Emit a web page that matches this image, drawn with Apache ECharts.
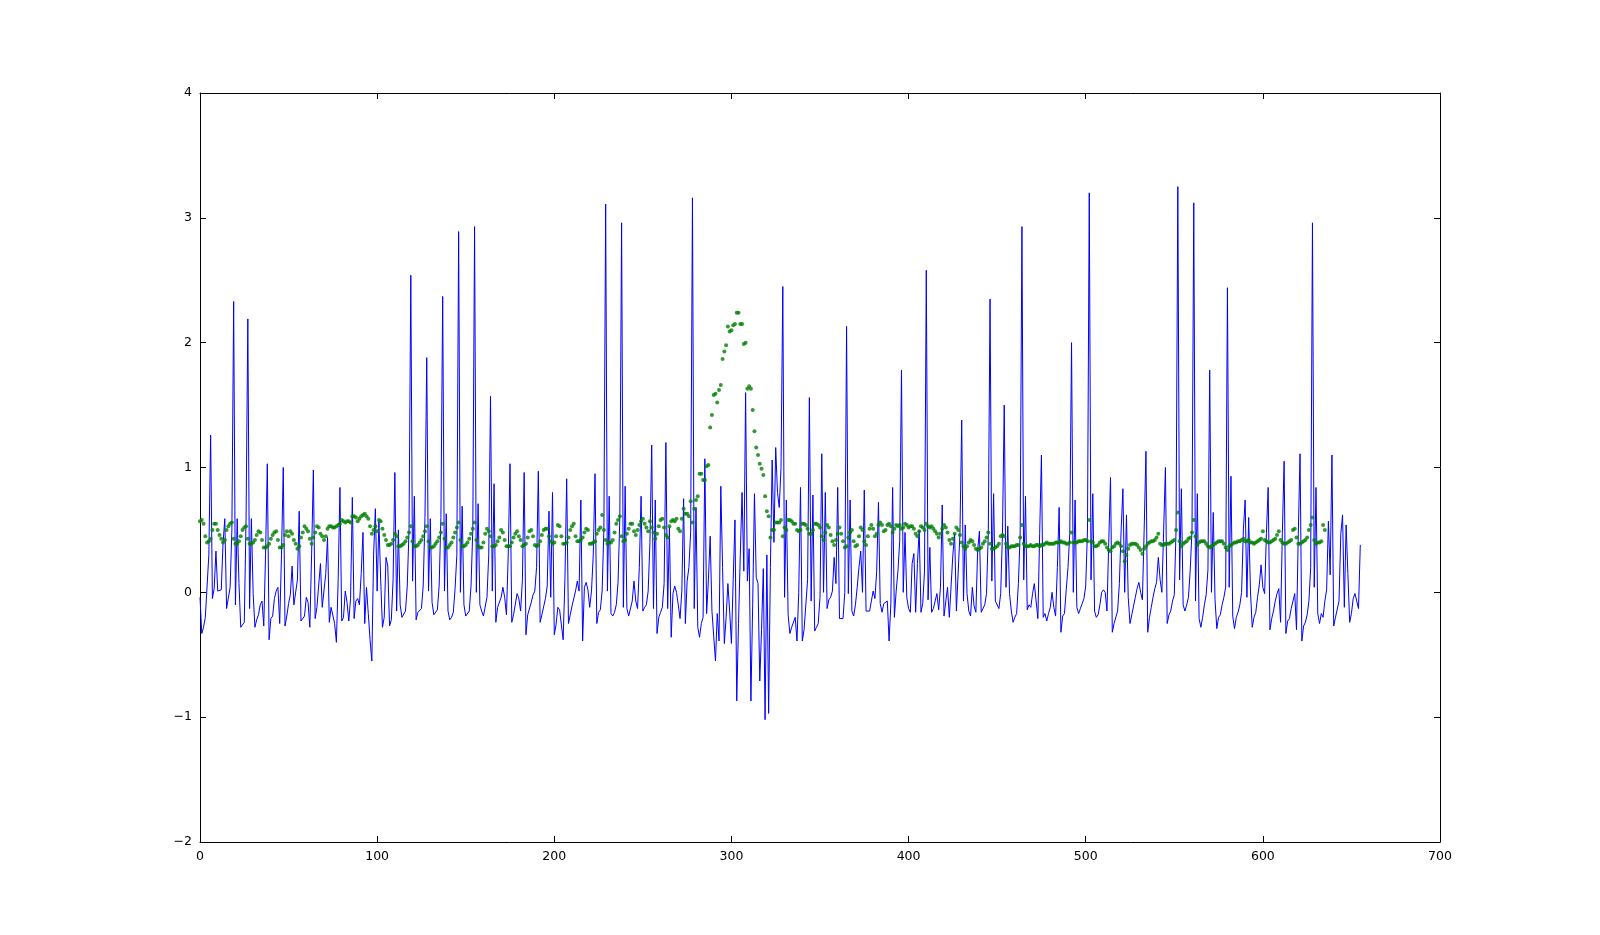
<!DOCTYPE html>
<html lang="en">

<head>
    <meta charset="UTF-8">
    <title>signal</title>
    <script src="https://cdn.jsdelivr.net/npm/echarts/dist/echarts.min.js"></script>
    <style>
        html, body { margin: 0; padding: 0; background: #fff; }
        #chart1 { width: 1600px; height: 935px; }
    </style>
</head>

<body>
    <div id="chart1"></div>
    <script>
        // blue trace in chunks (index = sample number)
        var blueA = [-0.04, -0.33, -0.28, -0.2, -0.2, 0.3, 1.26, -0.05, 0.03, 0.33,
            0.01, 0.02, 0.02, 0.39, 0.59, -0.13, -0.12, 0.04, 0.5, 2.33, -0.1,
            0.59, 0.07, -0.28, -0.26, -0.24, 0.58, 2.19, -0.13, 0.59, -0.01,
            -0.28, -0.22, -0.18, -0.1, -0.07, -0.27, 0.3, 1.03, -0.38, -0.21,
            -0.19, -0.05, 0.01, 0.04, -0.25, 0.3, 1.0, -0.27, -0.19, -0.09];
        var blueB = [-0.02, 0.21, -0.1, -0.1, 0.1, 0.65, -0.23, -0.23, -0.19, -0.04,
            -0.08, -0.28, 0.3, 0.98, -0.21, -0.12, -0.12, 0.23, -0.12, -0.13,
            0.15, 0.44, -0.24, -0.12, -0.12, -0.25, -0.4, 0.1, 0.84, -0.23,
            -0.2, 0.01, -0.08, -0.23, -0.05, 0.76, -0.21, -0.07, -0.05, -0.1,
            0.15, 0.48, -0.25, 0.04, -0.17, -0.38, -0.55, 0.3, 0.67, 0.01,
            0.57, 0.1, -0.28, -0.2];
        var blueC = [0.28, 0.21, -0.27, -0.22, 0.1, 0.96, -0.15, 0.5, -0.1, -0.2,
            -0.19, -0.15, 0.05, 0.5, 2.54, 0.09, 0.77, -0.22, -0.16, -0.15,
            -0.13, 0.05, 0.6, 1.88, 0.01, 0.59, -0.08, -0.18, -0.17, -0.14,
            0.05, 0.6, 2.37, 0.01, 0.63, -0.15, -0.22, -0.2, -0.16, 0.03,
            0.3, 2.89, 0.0, 0.69, -0.1, -0.19, -0.19, -0.15, 0.05, 0.5,
            2.93, 0.0, 0.71];
        var blueD = [-0.1, -0.15, -0.19, -0.18, -0.04, 0.3, 1.57, 0.01, 0.87, -0.24,
            -0.12, -0.11, -0.04, 0.04, -0.04, -0.18, 0.3, 1.03, -0.24, -0.18,
            -0.17, -0.01, -0.05, -0.15, 0.1, 0.96, -0.34, -0.18, -0.17, -0.08,
            -0.02, 0.01, 0.2, 0.97, -0.24, -0.18, -0.17, -0.05, 0.05, 0.65,
            -0.04, 0.8, -0.34, -0.26, -0.12, -0.14, -0.26, -0.38, 0.1, 0.91,
            -0.25, -0.18, -0.11, -0.12, 0.01, 0.09, 0.01, 0.74, -0.39, 0.04,
            0.08, 0.02, -0.12, 0.01, 0.3, 0.95, -0.25, -0.16, -0.14, 0.01,
            0.5, 3.11, 0.01, 0.77, -0.17, -0.19, -0.16, -0.1, 0.08, 0.6,
            2.96, -0.12, 0.85, -0.13, -0.19, -0.18, -0.07, 0.09, -0.07, -0.13,
            0.2, 0.77, -0.15, -0.12, -0.1, 0.01, 0.4, 1.18];
        var blueE = [-0.13, 0.74, -0.33, -0.2, -0.16, -0.12, 0.07, 1.2, -0.13, 0.52,
            -0.36, -0.01, 0.05, 0.0, -0.1, -0.21, 0.01, 0.75, -0.25, 0.09, 0.2,
            0.49, 3.16, -0.13, 0.68, -0.28, -0.36, -0.25, -0.2, 1.07, -0.17,
            0.1, 0.45, -0.15, -0.35, -0.55, -0.17, -0.39, 0.85, 0.2, -0.41,
            -0.2, 0.07, -0.15, -0.41, 0.1, 0.58, -0.87, -0.25, 0.3, 0.8,
            0.17, 1.6, 0.09, 0.35, -0.87, -0.1, 0.79, 0.12, 0.07, -0.71,
            -0.3, 0.19, -1.02, 0.3, -0.97, 0.2, 1.06, 0.4];
        var blueF = [1.16, 0.8, 0.68, 1.0, 2.45, -0.04, 0.74, -0.18, -0.33, -0.28,
            -0.27, -0.2, -0.39, 0.0, 0.84, -0.39, -0.3, -0.29, 0.1, 1.56,
            -0.07, 0.78, -0.31, -0.28, -0.25, -0.04, 1.11, 0.0, 0.8, -0.13,
            -0.06, -0.04, 0.01, 0.28, 0.07, 0.84, -0.21, -0.2, -0.21, 0.0,
            2.13, -0.01, 0.74, -0.15, -0.19, -0.1, 0.04, 0.2, 0.33, 0.0,
            0.82, -0.15, -0.16, -0.15, -0.07, 0.01, -0.05, 0.17, 0.72, -0.09,
            -0.16, -0.09, -0.09, -0.07, -0.39, -0.09, 0.84, -0.2, 0.01, 0.17,
            0.41, 1.78, 0.0, 0.48, -0.04, -0.13, -0.16, 0.23, 0.31, -0.16,
            0.23, 0.5, -0.16, -0.09, 0.17, 2.58, -0.06, 0.36];
        var blueG = [-0.16, -0.13, -0.14, -0.01, -0.14, 0.04, 0.7, -0.19, -0.2, 0.04,
            -0.2, -0.19, 0.3, 0.47, -0.15, -0.15, 0.47, 1.38, -0.07, 0.54,
            -0.01, -0.15, -0.19, 0.04, -0.11, -0.16, 0.34, 0.49, -0.16, -0.15,
            -0.1, -0.01, 0.47, 2.35, 0.09, 0.79, -0.07, -0.08, -0.13, -0.01,
            0.47, 1.5, 0.04, 0.53, -0.01, -0.15, -0.24, -0.2, -0.17, 0.07, 0.47,
            2.93, 0.1, 0.77, -0.14, -0.1, -0.12, -0.01, 0.07, 0.07, -0.21,
            0.47, 1.1, -0.2, -0.17, -0.23, -0.17, -0.12, 0.0, -0.12, -0.19,
            0.2, 0.68, -0.32, -0.19, -0.17, 0.02, 0.2, 0.47, 2.0, 0.0,
            0.74, -0.12, -0.17, -0.13, -0.09, -0.05, 0.05, 0.5];
        var blueH = [3.2, 0.1, 0.79, -0.15, -0.2, -0.18, -0.1, 0.0, 0.02, 0.0,
            -0.15, 0.4, 0.92, -0.32, -0.25, -0.25, -0.15, 0.07, 0.5, 0.83,
            0.0, 0.62, -0.04, -0.25, -0.18, -0.11, -0.04, 0.03, 0.08, 0.0,
            -0.06, 0.5, 1.13, -0.32, -0.2, -0.12, -0.04, 0.03, 0.08, 0.28,
            0.1, 0.0, 0.5, 1.0, -0.25, -0.18, -0.15, -0.07, -0.02, 0.5,
            3.25, 0.1, 0.83, -0.1, -0.15, -0.1, -0.04, 0.18, 0.5, 3.12,
            -0.07, 0.79, -0.21, -0.28, -0.2, -0.1, -0.02, 0.18, 1.78, 0.0,
            0.64, -0.06, -0.29, -0.2, -0.18, -0.1, -0.04, 0.04, 2.44, 0.04,
            0.93, -0.19, -0.29, -0.2, -0.16, -0.1, 0.0, 0.5, 0.74, -0.04,
            0.6, 0.01, -0.28, -0.2, -0.16, -0.04, 0.06, 0.22, 0.04, -0.01,
            0.47, 0.84, -0.3, -0.21, -0.15, -0.07, -0.01, 0.03, -0.24, 0.47,
            1.05, -0.33, -0.23, -0.21, -0.13, -0.07, -0.01, -0.3, 0.47, 1.11,
            -0.39, -0.27, -0.24, -0.18, -0.07, 0.2, 2.96, 0.04, 0.84, -0.17,
            -0.25, -0.17, -0.2, -0.07, 0.02, 0.57, 0.14, 1.1, -0.27, -0.2,
            -0.19, -0.07, 0.47, 0.62, -0.12, 0.54, 0.15, -0.24, -0.17, -0.05,
            -0.01, -0.07, -0.13, 0.38];

        // green dots
        var greenA = [0.57, 0.58, 0.55, 0.45, 0.4, 0.41, 0.43, 0.5, 0.55, 0.55,
            0.5, 0.46, 0.43, 0.4, 0.42, 0.5, 0.53, 0.55, 0.56, 0.43, 0.39,
            0.39, 0.41, 0.45, 0.5, 0.52, 0.53, 0.43, 0.39, 0.39, 0.4,
            0.42, 0.46, 0.49, 0.48, 0.42, 0.36, 0.36, 0.37, 0.39, 0.43,
            0.46, 0.48, 0.49, 0.42, 0.36, 0.36, 0.38, 0.46, 0.49];
        var greenB = [0.45, 0.49, 0.47, 0.42, 0.39, 0.35, 0.37, 0.44, 0.48, 0.53,
            0.51, 0.49, 0.43, 0.39, 0.44, 0.48, 0.53, 0.52, 0.47, 0.45,
            0.42, 0.45, 0.51, 0.53, 0.53, 0.52, 0.52, 0.53, 0.54, 0.55,
            0.58, 0.57, 0.56, 0.57, 0.57, 0.56, 0.61, 0.61, 0.6, 0.57,
            0.59, 0.61, 0.62, 0.63, 0.61, 0.59, 0.53, 0.47, 0.5, 0.53,
            0.49, 0.58, 0.57, 0.51, 0.46];
        var greenC = [0.42, 0.38, 0.38, 0.39, 0.42, 0.47, 0.45, 0.37, 0.37, 0.38,
            0.39, 0.41, 0.44, 0.48, 0.53, 0.41, 0.37, 0.37, 0.38, 0.4,
            0.42, 0.45, 0.49, 0.53, 0.41, 0.36, 0.36, 0.37, 0.39, 0.41,
            0.44, 0.48, 0.55, 0.43, 0.36, 0.36, 0.38, 0.4, 0.44, 0.48,
            0.52, 0.56, 0.42, 0.37, 0.37, 0.38, 0.4, 0.43, 0.47, 0.51,
            0.56, 0.42];
        var greenD = [0.37, 0.36, 0.36, 0.4, 0.47, 0.51, 0.49, 0.45, 0.37, 0.37,
            0.38, 0.41, 0.44, 0.5, 0.48, 0.42, 0.37, 0.37, 0.37, 0.4,
            0.44, 0.47, 0.49, 0.45, 0.42, 0.37, 0.38, 0.39, 0.44, 0.49,
            0.5, 0.45, 0.38, 0.37, 0.38, 0.41, 0.46, 0.5, 0.51, 0.51,
            0.45, 0.41, 0.39, 0.4, 0.45, 0.54, 0.53, 0.45, 0.39, 0.39,
            0.4, 0.44, 0.5, 0.53, 0.55, 0.45, 0.41, 0.41, 0.42, 0.44,
            0.48, 0.51, 0.5, 0.39, 0.39, 0.4, 0.41, 0.47, 0.5, 0.52,
            0.62, 0.5, 0.42, 0.39, 0.4, 0.4, 0.42, 0.48, 0.55, 0.58,
            0.61, 0.45, 0.41, 0.42, 0.47, 0.51, 0.55, 0.55, 0.49, 0.46,
            0.5, 0.54, 0.57, 0.59, 0.55, 0.52, 0.49, 0.57, 0.52, 0.48,
            0.43, 0.47, 0.53, 0.58, 0.59, 0.52, 0.46, 0.44, 0.53, 0.57,
            0.58, 0.57, 0.59, 0.51, 0.49, 0.59, 0.67, 0.63, 0.63, 0.61,
            0.73, 0.56, 0.67, 0.74, 0.77, 0.95, 0.95, 0.9, 0.9, 1.01,
            1.02, 1.32, 1.42, 1.58, 1.59, 1.52, 1.62, 1.66, 1.87, 1.93,
            1.98, 2.13, 2.09, 2.1, 2.14, 2.15, 2.24, 2.24, 2.15, 2.15,
            1.99, 2.0, 1.63, 1.65, 1.63, 1.46, 1.29, 1.16, 1.1, 1.03,
            0.99, 0.94, 0.77, 0.65, 0.61, 0.44, 0.5, 0.5, 0.56];
        var greenE = [0.56, 0.56, 0.58, 0.45, 0.52, 0.5, 0.58, 0.58, 0.57, 0.55, 0.55,
            0.5, 0.49, 0.5, 0.55, 0.55, 0.54, 0.51, 0.47, 0.47, 0.5,
            0.55, 0.55, 0.54, 0.52, 0.45, 0.42, 0.48, 0.54, 0.52, 0.46,
            0.41, 0.38, 0.42, 0.47, 0.52, 0.47, 0.41, 0.36, 0.37, 0.44,
            0.48, 0.5, 0.41, 0.37, 0.38, 0.45, 0.52, 0.5, 0.41, 0.38,
            0.45, 0.51, 0.54, 0.51, 0.45, 0.47, 0.54, 0.56, 0.54, 0.49,
            0.5, 0.54, 0.55, 0.53, 0.48, 0.51, 0.54, 0.53, 0.54, 0.51,
            0.52, 0.55, 0.54, 0.52, 0.53, 0.53, 0.51, 0.47, 0.45, 0.49,
            0.53, 0.52, 0.5, 0.55, 0.53, 0.52, 0.53];
        var greenF = [0.51, 0.49, 0.47, 0.44, 0.47, 0.51, 0.54, 0.52, 0.48, 0.42,
            0.39, 0.43, 0.47, 0.52, 0.5, 0.46, 0.4, 0.37, 0.35, 0.37,
            0.4, 0.42, 0.41, 0.38, 0.35, 0.34, 0.35, 0.36, 0.39, 0.41,
            0.44, 0.48, 0.39, 0.35, 0.35, 0.36, 0.37, 0.39, 0.45, 0.46,
            0.45, 0.39, 0.36, 0.36, 0.37, 0.37, 0.37, 0.38, 0.38, 0.44, 0.54,
            0.39, 0.37, 0.37, 0.37, 0.38, 0.37, 0.37, 0.38, 0.38, 0.37,
            0.38, 0.38, 0.39, 0.4, 0.39, 0.39, 0.39, 0.39, 0.4, 0.4,
            0.4, 0.41, 0.4, 0.4, 0.39, 0.39, 0.4, 0.48, 0.4, 0.4,
            0.4, 0.41, 0.41, 0.41, 0.42, 0.42, 0.41, 0.58];
        var greenG = [0.41, 0.4, 0.37, 0.37, 0.38, 0.4, 0.41, 0.41, 0.39,
            0.36, 0.34, 0.33, 0.36, 0.37, 0.39, 0.4, 0.39, 0.37, 0.33,
            0.25, 0.3, 0.35, 0.38, 0.39, 0.39, 0.39, 0.38, 0.36, 0.34,
            0.31, 0.35, 0.37, 0.39, 0.4, 0.41, 0.41, 0.42, 0.44, 0.47,
            0.39, 0.38, 0.38, 0.39, 0.39, 0.39, 0.4, 0.41, 0.42, 0.5,
            0.64, 0.41, 0.37, 0.39, 0.4, 0.41, 0.43, 0.44, 0.48, 0.58,
            0.45, 0.38, 0.4, 0.41, 0.41, 0.41, 0.39, 0.37, 0.36, 0.37,
            0.38, 0.39, 0.4, 0.41, 0.41, 0.41, 0.39, 0.36, 0.34, 0.37,
            0.38, 0.39, 0.4, 0.4, 0.41, 0.41, 0.42, 0.43];
        var greenH = [0.41, 0.41, 0.42, 0.4, 0.4, 0.39, 0.4, 0.41, 0.42, 0.43,
            0.49, 0.42, 0.41, 0.4, 0.4, 0.41, 0.42, 0.43, 0.46, 0.49,
            0.42, 0.4, 0.39, 0.39, 0.4, 0.41, 0.42, 0.5, 0.51, 0.44,
            0.39, 0.39, 0.4, 0.41, 0.42, 0.44, 0.5, 0.54, 0.6, 0.42,
            0.39, 0.4, 0.4, 0.41, 0.54, 0.5];

        var xTicks = [0, 100, 200, 300, 400, 500, 600, 700];
        var yTicks = [-2, -1, 0, 1, 2, 3, 4];

        var blue = [].concat(blueA, blueB, blueC, blueD, blueE, blueF, blueG, blueH);
        var green = [].concat(greenA, greenB, greenC, greenD, greenE, greenF, greenG, greenH);

        var toPairs = function (arr) {
            return arr.map(function (v, i) { return [i, v]; });
        };

        var font = 'DejaVu Sans';
        var labelStyle = { color: '#000', fontFamily: font, fontSize: 12.5 };
        var lineStyle = { color: '#000', width: 1 };
        var tickStyle = { show: true, inside: true, length: 6, lineStyle: { color: '#000', width: 1 } };

        var minus = function (v) {
            return v < 0 ? '\u2212' + Math.abs(v) : String(v);
        };

        var xBase = {
            type: 'value',
            min: xTicks[0],
            max: xTicks[xTicks.length - 1],
            interval: 100,
            splitLine: { show: false },
            axisLine: { show: true, onZero: false, lineStyle: lineStyle },
            axisTick: tickStyle
        };
        var yBase = {
            type: 'value',
            min: yTicks[0],
            max: yTicks[yTicks.length - 1],
            interval: 1,
            splitLine: { show: false },
            axisLine: { show: true, onZero: false, lineStyle: lineStyle },
            axisTick: tickStyle
        };

        var chart1 = echarts.init(document.getElementById('chart1'));
        chart1.setOption({
            animation: false,
            backgroundColor: '#fff',
            grid: { left: 200, right: 160, top: 93, bottom: 93 },
            xAxis: [
                Object.assign({}, xBase, {
                    position: 'bottom',
                    axisLabel: Object.assign({ margin: 8, formatter: minus }, labelStyle)
                }),
                Object.assign({}, xBase, { position: 'top', axisLabel: { show: false } })
            ],
            yAxis: [
                Object.assign({}, yBase, {
                    position: 'left',
                    axisLabel: Object.assign({ margin: 8, formatter: minus }, labelStyle)
                }),
                Object.assign({}, yBase, { position: 'right', axisLabel: { show: false } })
            ],
            series: [
                {
                    type: 'line',
                    data: toPairs(blue),
                    showSymbol: false,
                    symbol: 'none',
                    lineStyle: { color: '#0000ff', width: 1 },
                    itemStyle: { color: '#0000ff' },
                    z: 2
                },
                {
                    type: 'scatter',
                    data: toPairs(green),
                    symbol: 'circle',
                    symbolSize: 4,
                    itemStyle: { color: '#008000' },
                    z: 3
                }
            ]
        });
    </script>
</body>

</html>
